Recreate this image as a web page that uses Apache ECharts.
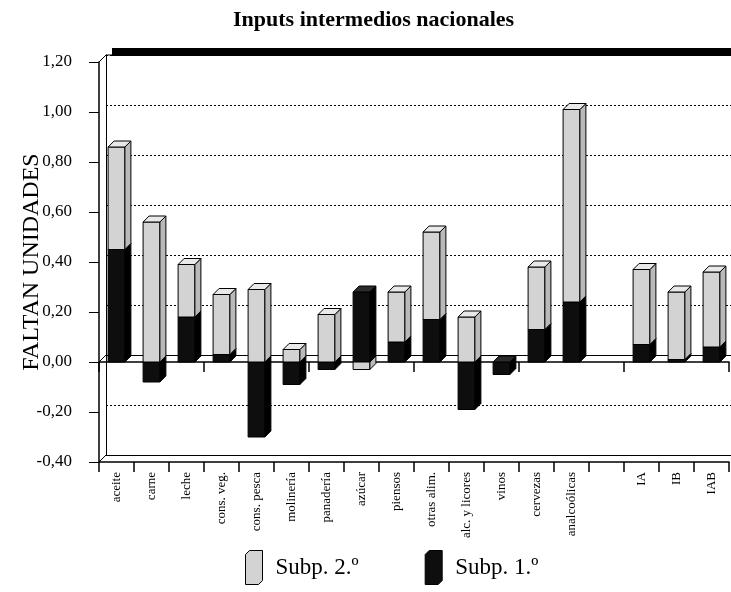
<!DOCTYPE html>
<html>
<head>
<meta charset="utf-8">
<script src="https://cdn.jsdelivr.net/npm/echarts@6/dist/echarts.min.js"></script>
<style>
    html, body { margin: 0; padding: 0; background: #fff; }
    #chart { width: 731px; height: 592px; }
</style>
</head>
<body>
<div id="chart"></div>
<script>
// datos
const categories = ['aceite', 'carne', 'leche', 'cons. veg.', 'cons. pesca', 'molinería', 'panadería', 'azúcar',
    'piensos', 'otras alim.', 'alc. y licores', 'vinos', 'cervezas', 'analcoólicas', '', 'IA', 'IB', 'IAB']
const subp1 = [0.45, -0.08, 0.18, 0.03, -0.30, -0.09, -0.03, 0.28, 0.08, 0.17, -0.19, -0.05, 0.13, 0.24, null, 0.07, 0.01, 0.06]
const subp2 = [0.41, 0.56, 0.21, 0.24, 0.29, 0.05, 0.19, -0.03, 0.20, 0.35, 0.18, 0, 0.25, 0.77, null, 0.30, 0.27, 0.30]
const yMin = -0.4
const yMax = 1.2
const yStep = 0.2

const serif = 'Liberation Serif'
const depth = 6
const light = { front: '#d3d3d3', side: '#b9b9b9', top: '#e9e9e9' }
const dark = { front: '#0e0e0e', side: '#000000', top: '#2b2b2b' }

const chart = echarts.init(document.getElementById('chart'))

const makeBox = (which) => (params, api) => {
    const i = api.value(0)
    const v = api.value(1)
    if (isNaN(v) || v === 0) return null
    let base = 0
    if (which === 2 && subp1[i] != null && subp1[i] * v > 0) base = subp1[i]
    const a = api.coord([i, base])
    const b = api.coord([i, base + v])
    const w = api.size([1, 0])[0] * 0.48
    const x = a[0] - w / 2
    const top = Math.min(a[1], b[1])
    const bot = Math.max(a[1], b[1])
    const c = which === 1 ? dark : light
    const other = which === 1 ? subp2[i] : subp1[i]
    const showTop = v > 0 || !(other > 0)
    const stroke = { stroke: '#000', lineWidth: 1 }
    const children = [
        { type: 'rect', shape: { x: x, y: top, width: w, height: bot - top }, style: Object.assign({ fill: c.front }, stroke) },
        { type: 'polygon', shape: { points: [[x + w, top], [x + w + depth, top - depth], [x + w + depth, bot - depth], [x + w, bot]] },
          style: Object.assign({ fill: c.side }, stroke) }
    ]
    if (showTop) {
        children.push({ type: 'polygon', shape: { points: [[x, top], [x + depth, top - depth], [x + w + depth, top - depth], [x + w, top]] },
          style: Object.assign({ fill: c.top }, stroke) })
    }
    return { type: 'group', children: children }
}

const fmt = v => v.toFixed(2).replace('.', ',')
const boxIcon = 'path://M0,4 L4,0 L17,0 L17,30 L13,34 L0,34 Z'

const option = {
    animation: false,
    title: {
        text: 'Inputs intermedios nacionales',
        left: 228,
        top: 4,
        textStyle: { fontFamily: serif, fontWeight: 'bold', fontSize: 22, color: '#000' }
    },
    legend: {
        left: 240,
        top: 545,
        itemWidth: 17,
        itemHeight: 34,
        itemGap: 66,
        textStyle: { fontFamily: serif, fontSize: 23, color: '#000', padding: [16, 0, 0, 8] },
        data: [
            { name: 'Subp. 2.º', icon: boxIcon, itemStyle: { color: light.front, borderColor: '#000', borderWidth: 1 } },
            { name: 'Subp. 1.º', icon: boxIcon, itemStyle: { color: dark.front, borderColor: '#000', borderWidth: 1 } }
        ]
    },
    grid: [
        { left: 99, right: 2, top: 62, bottom: 130 },
        { left: 106, right: 0, top: 55, bottom: 137 }
    ],
    xAxis: [
        {
            type: 'category', gridIndex: 0, data: categories,
            axisLine: { onZero: true, lineStyle: { color: '#000', width: 1.5 } },
            axisTick: { show: true, length: 10, lineStyle: { color: '#000', width: 1.5 } },
            axisLabel: { show: false }
        },
        {
            type: 'category', gridIndex: 0, data: categories, position: 'bottom',
            axisLine: { onZero: false, lineStyle: { color: '#000', width: 1.5 } },
            axisTick: { show: true, length: 10, lineStyle: { color: '#000', width: 1.5 } },
            axisLabel: { rotate: 90, fontFamily: serif, fontSize: 13, color: '#000', margin: 10 }
        },
        {
            type: 'category', gridIndex: 1, data: categories,
            axisLine: { onZero: false, lineStyle: { color: '#000' } },
            axisTick: { show: false }, axisLabel: { show: false }
        },
        {
            type: 'category', gridIndex: 1, data: categories,
            axisLine: { onZero: true, lineStyle: { color: '#000' } },
            axisTick: { show: false }, axisLabel: { show: false }
        }
    ],
    yAxis: [
        {
            type: 'value', gridIndex: 0, min: yMin, max: yMax, interval: yStep,
            name: 'FALTAN UNIDADES', nameLocation: 'middle', nameGap: 55, nameMoveOverlap: false,
            nameTextStyle: { fontFamily: serif, fontSize: 24, color: '#000' },
            axisLine: { show: true, lineStyle: { color: '#000', width: 1.5 } },
            axisTick: { show: true, length: 10, lineStyle: { color: '#000' } },
            axisLabel: { formatter: fmt, fontFamily: serif, fontSize: 17, color: '#000', margin: 27 },
            splitLine: { show: false }
        },
        {
            type: 'value', gridIndex: 1, min: yMin, max: yMax, interval: yStep,
            axisLine: { show: true, lineStyle: { color: '#000' } },
            axisTick: { show: false }, axisLabel: { show: false },
            splitLine: { show: true, lineStyle: { color: '#000', type: [2, 2], width: 1 } }
        }
    ],
    graphic: [
        { type: 'rect', shape: { x: 112, y: 48, width: 619, height: 8 }, style: { fill: '#000' }, z: 10 },
        { type: 'polyline', shape: { points: [[99, 62], [106, 55], [112, 55]] }, style: { stroke: '#000', fill: null }, z: 10 },
        { type: 'line', shape: { x1: 99, y1: 462, x2: 106, y2: 455 }, style: { stroke: '#000' }, z: 10 },
        { type: 'line', shape: { x1: 99, y1: 362, x2: 106, y2: 355 }, style: { stroke: '#000' }, z: 10 }
    ],
    series: [
        {
            name: 'Subp. 1.º', type: 'custom', xAxisIndex: 0, yAxisIndex: 0,
            itemStyle: { color: dark.front },
            renderItem: makeBox(1),
            encode: { x: 0, y: 1 },
            data: subp1.map((v, i) => [i, v == null ? '-' : v]),
            z: 5
        },
        {
            name: 'Subp. 2.º', type: 'custom', xAxisIndex: 0, yAxisIndex: 0,
            itemStyle: { color: light.front },
            renderItem: makeBox(2),
            encode: { x: 0, y: 1 },
            data: subp2.map((v, i) => [i, v == null ? '-' : v]),
            z: 6
        }
    ]
}

chart.setOption(option)
</script>
</body>
</html>
